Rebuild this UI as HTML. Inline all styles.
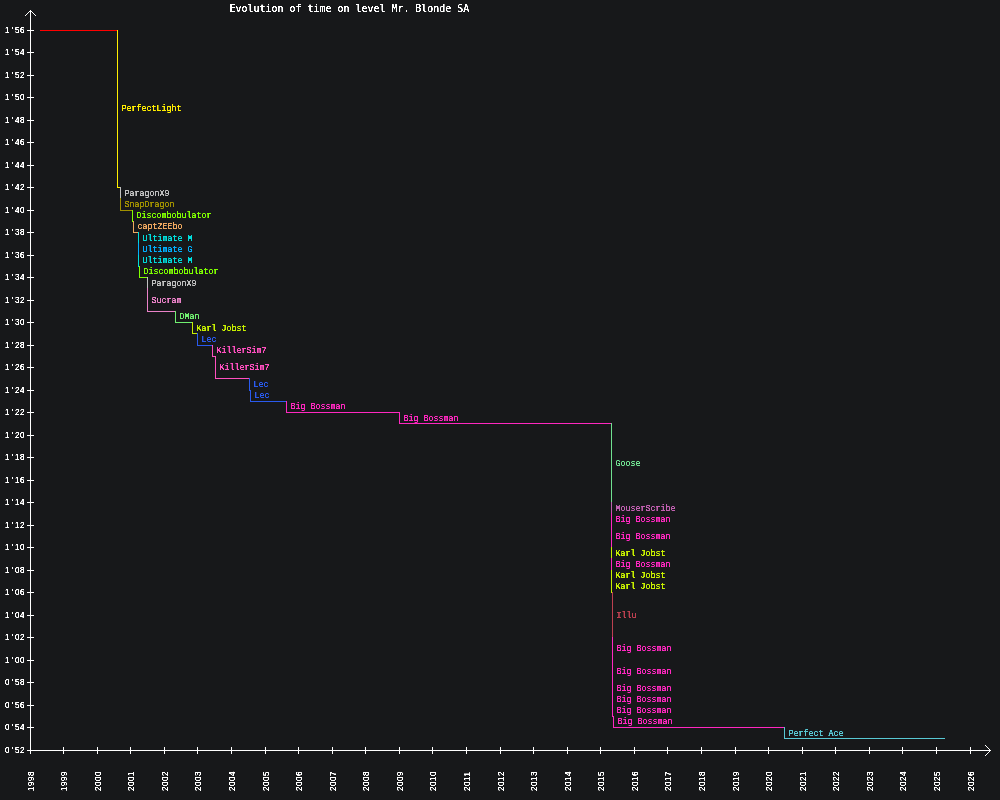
<!DOCTYPE html>
<html lang="en">
<head>
<meta charset="utf-8">
<title>Evolution of time on level Mr. Blonde SA</title>
<style>
html,body{margin:0;padding:0;background:#17181a;}
body{width:1000px;height:800px;overflow:hidden;}
svg{display:block;}
text{white-space:pre;}
.tn text{font-family:"Liberation Mono", "DejaVu Sans Mono", monospace;font-size:8.332px;font-weight:normal;}
.dg text{font-family:"Liberation Sans", "DejaVu Sans", sans-serif;font-size:8.0px;}
.dg.yr text{letter-spacing:0.551px;}
.tt text{font-family:"DejaVu Sans Mono", "Liberation Mono", monospace;font-size:9.966px;font-weight:normal;}
</style>
</head>
<body>
<svg width="1000" height="800" viewBox="0 0 1000 800">
<defs><filter id="px" x="-5%" y="-20%" width="110%" height="140%" color-interpolation-filters="sRGB"><feComponentTransfer><feFuncA type="linear" slope="3" intercept="-0.4"/></feComponentTransfer></filter></defs>
<defs><filter id="pt" x="-5%" y="-20%" width="110%" height="140%" color-interpolation-filters="sRGB"><feComponentTransfer><feFuncA type="linear" slope="3" intercept="-0.5"/></feComponentTransfer></filter></defs>
<rect x="0" y="0" width="1000" height="800" fill="#17181a"/>
<g shape-rendering="crispEdges">
<rect x="30" y="10" width="1" height="741" fill="#ffffff"/>
<rect x="30" y="750" width="961" height="1" fill="#ffffff"/>
<rect x="29" y="11" width="1" height="1" fill="#ffffff"/>
<rect x="31" y="11" width="1" height="1" fill="#ffffff"/>
<rect x="989" y="749" width="1" height="1" fill="#ffffff"/>
<rect x="989" y="751" width="1" height="1" fill="#ffffff"/>
<rect x="28" y="12" width="1" height="1" fill="#ffffff"/>
<rect x="32" y="12" width="1" height="1" fill="#ffffff"/>
<rect x="988" y="748" width="1" height="1" fill="#ffffff"/>
<rect x="988" y="752" width="1" height="1" fill="#ffffff"/>
<rect x="27" y="13" width="1" height="1" fill="#ffffff"/>
<rect x="33" y="13" width="1" height="1" fill="#ffffff"/>
<rect x="987" y="747" width="1" height="1" fill="#ffffff"/>
<rect x="987" y="753" width="1" height="1" fill="#ffffff"/>
<rect x="26" y="14" width="1" height="1" fill="#ffffff"/>
<rect x="34" y="14" width="1" height="1" fill="#ffffff"/>
<rect x="986" y="746" width="1" height="1" fill="#ffffff"/>
<rect x="986" y="754" width="1" height="1" fill="#ffffff"/>
<rect x="25" y="15" width="1" height="1" fill="#ffffff"/>
<rect x="35" y="15" width="1" height="1" fill="#ffffff"/>
<rect x="985" y="745" width="1" height="1" fill="#ffffff"/>
<rect x="985" y="755" width="1" height="1" fill="#ffffff"/>
<rect x="27" y="30" width="7" height="1" fill="#ffffff"/>
<rect x="27" y="52" width="7" height="1" fill="#ffffff"/>
<rect x="27" y="75" width="7" height="1" fill="#ffffff"/>
<rect x="27" y="97" width="7" height="1" fill="#ffffff"/>
<rect x="27" y="120" width="7" height="1" fill="#ffffff"/>
<rect x="27" y="142" width="7" height="1" fill="#ffffff"/>
<rect x="27" y="165" width="7" height="1" fill="#ffffff"/>
<rect x="27" y="187" width="7" height="1" fill="#ffffff"/>
<rect x="27" y="210" width="7" height="1" fill="#ffffff"/>
<rect x="27" y="232" width="7" height="1" fill="#ffffff"/>
<rect x="27" y="255" width="7" height="1" fill="#ffffff"/>
<rect x="27" y="277" width="7" height="1" fill="#ffffff"/>
<rect x="27" y="300" width="7" height="1" fill="#ffffff"/>
<rect x="27" y="322" width="7" height="1" fill="#ffffff"/>
<rect x="27" y="345" width="7" height="1" fill="#ffffff"/>
<rect x="27" y="367" width="7" height="1" fill="#ffffff"/>
<rect x="27" y="390" width="7" height="1" fill="#ffffff"/>
<rect x="27" y="412" width="7" height="1" fill="#ffffff"/>
<rect x="27" y="435" width="7" height="1" fill="#ffffff"/>
<rect x="27" y="457" width="7" height="1" fill="#ffffff"/>
<rect x="27" y="480" width="7" height="1" fill="#ffffff"/>
<rect x="27" y="502" width="7" height="1" fill="#ffffff"/>
<rect x="27" y="525" width="7" height="1" fill="#ffffff"/>
<rect x="27" y="547" width="7" height="1" fill="#ffffff"/>
<rect x="27" y="570" width="7" height="1" fill="#ffffff"/>
<rect x="27" y="592" width="7" height="1" fill="#ffffff"/>
<rect x="27" y="615" width="7" height="1" fill="#ffffff"/>
<rect x="27" y="637" width="7" height="1" fill="#ffffff"/>
<rect x="27" y="660" width="7" height="1" fill="#ffffff"/>
<rect x="27" y="682" width="7" height="1" fill="#ffffff"/>
<rect x="27" y="705" width="7" height="1" fill="#ffffff"/>
<rect x="27" y="727" width="7" height="1" fill="#ffffff"/>
<rect x="27" y="750" width="7" height="1" fill="#ffffff"/>
<rect x="30" y="747" width="1" height="7" fill="#ffffff"/>
<rect x="63" y="747" width="1" height="7" fill="#ffffff"/>
<rect x="97" y="747" width="1" height="7" fill="#ffffff"/>
<rect x="130" y="747" width="1" height="7" fill="#ffffff"/>
<rect x="164" y="747" width="1" height="7" fill="#ffffff"/>
<rect x="197" y="747" width="1" height="7" fill="#ffffff"/>
<rect x="231" y="747" width="1" height="7" fill="#ffffff"/>
<rect x="265" y="747" width="1" height="7" fill="#ffffff"/>
<rect x="298" y="747" width="1" height="7" fill="#ffffff"/>
<rect x="332" y="747" width="1" height="7" fill="#ffffff"/>
<rect x="365" y="747" width="1" height="7" fill="#ffffff"/>
<rect x="399" y="747" width="1" height="7" fill="#ffffff"/>
<rect x="432" y="747" width="1" height="7" fill="#ffffff"/>
<rect x="466" y="747" width="1" height="7" fill="#ffffff"/>
<rect x="500" y="747" width="1" height="7" fill="#ffffff"/>
<rect x="533" y="747" width="1" height="7" fill="#ffffff"/>
<rect x="567" y="747" width="1" height="7" fill="#ffffff"/>
<rect x="600" y="747" width="1" height="7" fill="#ffffff"/>
<rect x="634" y="747" width="1" height="7" fill="#ffffff"/>
<rect x="667" y="747" width="1" height="7" fill="#ffffff"/>
<rect x="701" y="747" width="1" height="7" fill="#ffffff"/>
<rect x="735" y="747" width="1" height="7" fill="#ffffff"/>
<rect x="768" y="747" width="1" height="7" fill="#ffffff"/>
<rect x="802" y="747" width="1" height="7" fill="#ffffff"/>
<rect x="835" y="747" width="1" height="7" fill="#ffffff"/>
<rect x="869" y="747" width="1" height="7" fill="#ffffff"/>
<rect x="902" y="747" width="1" height="7" fill="#ffffff"/>
<rect x="936" y="747" width="1" height="7" fill="#ffffff"/>
<rect x="970" y="747" width="1" height="7" fill="#ffffff"/>
<rect x="40" y="30" width="78" height="1" fill="#ff0000"/>
<rect x="117" y="30" width="1" height="158" fill="#ffee00"/>
<rect x="117" y="187" width="4" height="1" fill="#ffee00"/>
<rect x="120" y="187" width="1" height="12" fill="#c0c0c0"/>
<rect x="120" y="198" width="1" height="13" fill="#a09000"/>
<rect x="120" y="210" width="13" height="1" fill="#a09000"/>
<rect x="132" y="210" width="1" height="12" fill="#80ff00"/>
<rect x="132" y="221" width="2" height="1" fill="#80ff00"/>
<rect x="133" y="221" width="1" height="12" fill="#f0a860"/>
<rect x="133" y="232" width="6" height="1" fill="#f0a860"/>
<rect x="138" y="232" width="1" height="12" fill="#00dcdc"/>
<rect x="138" y="243" width="1" height="13" fill="#00b0ff"/>
<rect x="138" y="255" width="1" height="12" fill="#00dcdc"/>
<rect x="138" y="266" width="2" height="1" fill="#00dcdc"/>
<rect x="139" y="266" width="1" height="12" fill="#80ff00"/>
<rect x="139" y="277" width="9" height="1" fill="#80ff00"/>
<rect x="147" y="277" width="1" height="12" fill="#c0c0c0"/>
<rect x="147" y="288" width="1" height="24" fill="#ea82c8"/>
<rect x="147" y="311" width="29" height="1" fill="#ea82c8"/>
<rect x="175" y="311" width="1" height="12" fill="#70f070"/>
<rect x="175" y="322" width="18" height="1" fill="#70f070"/>
<rect x="192" y="322" width="1" height="12" fill="#c8f000"/>
<rect x="192" y="333" width="6" height="1" fill="#c8f000"/>
<rect x="197" y="333" width="1" height="13" fill="#2a5aee"/>
<rect x="197" y="345" width="16" height="1" fill="#2a5aee"/>
<rect x="212" y="345" width="1" height="12" fill="#ff50c0"/>
<rect x="212" y="356" width="4" height="1" fill="#ff50c0"/>
<rect x="215" y="356" width="1" height="23" fill="#ff50c0"/>
<rect x="215" y="378" width="35" height="1" fill="#ff50c0"/>
<rect x="249" y="378" width="1" height="13" fill="#2a5aee"/>
<rect x="249" y="390" width="2" height="1" fill="#2a5aee"/>
<rect x="250" y="390" width="1" height="12" fill="#2a5aee"/>
<rect x="250" y="401" width="37" height="1" fill="#2a5aee"/>
<rect x="286" y="401" width="1" height="12" fill="#ff28c0"/>
<rect x="286" y="412" width="114" height="1" fill="#ff28c0"/>
<rect x="399" y="412" width="1" height="12" fill="#ff28c0"/>
<rect x="399" y="423" width="213" height="1" fill="#ff28c0"/>
<rect x="611" y="423" width="1" height="80" fill="#70e090"/>
<rect x="611" y="502" width="1" height="12" fill="#c060b0"/>
<rect x="611" y="513" width="1" height="13" fill="#ff28c0"/>
<rect x="611" y="525" width="1" height="23" fill="#ff28c0"/>
<rect x="611" y="547" width="1" height="12" fill="#c8f000"/>
<rect x="611" y="558" width="1" height="13" fill="#ff28c0"/>
<rect x="611" y="570" width="1" height="12" fill="#c8f000"/>
<rect x="611" y="581" width="1" height="12" fill="#c8f000"/>
<rect x="611" y="592" width="2" height="1" fill="#c8f000"/>
<rect x="612" y="592" width="1" height="46" fill="#bc4050"/>
<rect x="612" y="637" width="1" height="24" fill="#ff28c0"/>
<rect x="612" y="660" width="1" height="23" fill="#ff28c0"/>
<rect x="612" y="682" width="1" height="12" fill="#ff28c0"/>
<rect x="612" y="693" width="1" height="13" fill="#ff28c0"/>
<rect x="612" y="705" width="1" height="12" fill="#ff28c0"/>
<rect x="612" y="716" width="2" height="1" fill="#ff28c0"/>
<rect x="613" y="716" width="1" height="12" fill="#ff28c0"/>
<rect x="613" y="727" width="172" height="1" fill="#ff28c0"/>
<rect x="784" y="727" width="1" height="12" fill="#58c8d4"/>
<rect x="784" y="738" width="161" height="1" fill="#58c8d4"/>
</g>
<g class="tt" filter="url(#pt)"><text transform="translate(229.5,12) scale(1,1.1)" fill="#fff">Evolution of time on level Mr. Blonde SA</text></g>
<g class="dg" fill="#fff" filter="url(#px)">
<text transform="translate(5.0,33) scale(1,1.08)" x="0 6.5 10 15">1'56</text>
<text transform="translate(5.0,55) scale(1,1.08)" x="0 6.5 10 15">1'54</text>
<text transform="translate(5.0,78) scale(1,1.08)" x="0 6.5 10 15">1'52</text>
<text transform="translate(5.0,100) scale(1,1.08)" x="0 6.5 10 15">1'50</text>
<text transform="translate(5.0,123) scale(1,1.08)" x="0 6.5 10 15">1'48</text>
<text transform="translate(5.0,145) scale(1,1.08)" x="0 6.5 10 15">1'46</text>
<text transform="translate(5.0,168) scale(1,1.08)" x="0 6.5 10 15">1'44</text>
<text transform="translate(5.0,190) scale(1,1.08)" x="0 6.5 10 15">1'42</text>
<text transform="translate(5.0,213) scale(1,1.08)" x="0 6.5 10 15">1'40</text>
<text transform="translate(5.0,235) scale(1,1.08)" x="0 6.5 10 15">1'38</text>
<text transform="translate(5.0,258) scale(1,1.08)" x="0 6.5 10 15">1'36</text>
<text transform="translate(5.0,280) scale(1,1.08)" x="0 6.5 10 15">1'34</text>
<text transform="translate(5.0,303) scale(1,1.08)" x="0 6.5 10 15">1'32</text>
<text transform="translate(5.0,325) scale(1,1.08)" x="0 6.5 10 15">1'30</text>
<text transform="translate(5.0,348) scale(1,1.08)" x="0 6.5 10 15">1'28</text>
<text transform="translate(5.0,370) scale(1,1.08)" x="0 6.5 10 15">1'26</text>
<text transform="translate(5.0,393) scale(1,1.08)" x="0 6.5 10 15">1'24</text>
<text transform="translate(5.0,415) scale(1,1.08)" x="0 6.5 10 15">1'22</text>
<text transform="translate(5.0,438) scale(1,1.08)" x="0 6.5 10 15">1'20</text>
<text transform="translate(5.0,460) scale(1,1.08)" x="0 6.5 10 15">1'18</text>
<text transform="translate(5.0,483) scale(1,1.08)" x="0 6.5 10 15">1'16</text>
<text transform="translate(5.0,505) scale(1,1.08)" x="0 6.5 10 15">1'14</text>
<text transform="translate(5.0,528) scale(1,1.08)" x="0 6.5 10 15">1'12</text>
<text transform="translate(5.0,550) scale(1,1.08)" x="0 6.5 10 15">1'10</text>
<text transform="translate(5.0,573) scale(1,1.08)" x="0 6.5 10 15">1'08</text>
<text transform="translate(5.0,595) scale(1,1.08)" x="0 6.5 10 15">1'06</text>
<text transform="translate(5.0,618) scale(1,1.08)" x="0 6.5 10 15">1'04</text>
<text transform="translate(5.0,640) scale(1,1.08)" x="0 6.5 10 15">1'02</text>
<text transform="translate(5.0,663) scale(1,1.08)" x="0 6.5 10 15">1'00</text>
<text transform="translate(5.0,685) scale(1,1.08)" x="0 6.5 10 15">0'58</text>
<text transform="translate(5.0,708) scale(1,1.08)" x="0 6.5 10 15">0'56</text>
<text transform="translate(5.0,730) scale(1,1.08)" x="0 6.5 10 15">0'54</text>
<text transform="translate(5.0,753) scale(1,1.08)" x="0 6.5 10 15">0'52</text>
</g>
<g class="dg yr" fill="#fff" filter="url(#px)">
<text transform="translate(34,791) rotate(-90) scale(1,1.08)">1998</text>
<text transform="translate(67,791) rotate(-90) scale(1,1.08)">1999</text>
<text transform="translate(101,791) rotate(-90) scale(1,1.08)">2000</text>
<text transform="translate(134,791) rotate(-90) scale(1,1.08)">2001</text>
<text transform="translate(168,791) rotate(-90) scale(1,1.08)">2002</text>
<text transform="translate(201,791) rotate(-90) scale(1,1.08)">2003</text>
<text transform="translate(235,791) rotate(-90) scale(1,1.08)">2004</text>
<text transform="translate(269,791) rotate(-90) scale(1,1.08)">2005</text>
<text transform="translate(302,791) rotate(-90) scale(1,1.08)">2006</text>
<text transform="translate(336,791) rotate(-90) scale(1,1.08)">2007</text>
<text transform="translate(369,791) rotate(-90) scale(1,1.08)">2008</text>
<text transform="translate(403,791) rotate(-90) scale(1,1.08)">2009</text>
<text transform="translate(436,791) rotate(-90) scale(1,1.08)">2010</text>
<text transform="translate(470,791) rotate(-90) scale(1,1.08)">2011</text>
<text transform="translate(504,791) rotate(-90) scale(1,1.08)">2012</text>
<text transform="translate(537,791) rotate(-90) scale(1,1.08)">2013</text>
<text transform="translate(571,791) rotate(-90) scale(1,1.08)">2014</text>
<text transform="translate(604,791) rotate(-90) scale(1,1.08)">2015</text>
<text transform="translate(638,791) rotate(-90) scale(1,1.08)">2016</text>
<text transform="translate(671,791) rotate(-90) scale(1,1.08)">2017</text>
<text transform="translate(705,791) rotate(-90) scale(1,1.08)">2018</text>
<text transform="translate(739,791) rotate(-90) scale(1,1.08)">2019</text>
<text transform="translate(772,791) rotate(-90) scale(1,1.08)">2020</text>
<text transform="translate(806,791) rotate(-90) scale(1,1.08)">2021</text>
<text transform="translate(839,791) rotate(-90) scale(1,1.08)">2022</text>
<text transform="translate(873,791) rotate(-90) scale(1,1.08)">2023</text>
<text transform="translate(906,791) rotate(-90) scale(1,1.08)">2024</text>
<text transform="translate(940,791) rotate(-90) scale(1,1.08)">2025</text>
<text transform="translate(974,791) rotate(-90) scale(1,1.08)">2026</text>
</g>
<g class="tn" filter="url(#px)">
<text transform="translate(121.6,111) scale(1,1.04)" fill="#ffee00">PerfectLight</text>
<text transform="translate(124.6,196) scale(1,1.04)" fill="#c0c0c0">ParagonX9</text>
<text transform="translate(124.6,207) scale(1,1.04)" fill="#a09000">SnapDragon</text>
<text transform="translate(136.6,218) scale(1,1.04)" fill="#80ff00">Discombobulator</text>
<text transform="translate(137.6,229) scale(1,1.04)" fill="#f0a860">captZEEbo</text>
<text transform="translate(142.6,241) scale(1,1.04)" fill="#00dcdc">Ultimate M</text>
<text transform="translate(142.6,252) scale(1,1.04)" fill="#00b0ff">Ultimate G</text>
<text transform="translate(142.6,263) scale(1,1.04)" fill="#00dcdc">Ultimate M</text>
<text transform="translate(143.6,274) scale(1,1.04)" fill="#80ff00">Discombobulator</text>
<text transform="translate(151.6,286) scale(1,1.04)" fill="#c0c0c0">ParagonX9</text>
<text transform="translate(151.6,303) scale(1,1.04)" fill="#ea82c8">Sucram</text>
<text transform="translate(179.6,319) scale(1,1.04)" fill="#70f070">DMan</text>
<text transform="translate(196.6,331) scale(1,1.04)" fill="#c8f000">Karl Jobst</text>
<text transform="translate(201.6,342) scale(1,1.04)" fill="#2a5aee">Lec</text>
<text transform="translate(216.6,353) scale(1,1.04)" fill="#ff50c0">KillerSim7</text>
<text transform="translate(219.6,370) scale(1,1.04)" fill="#ff50c0">KillerSim7</text>
<text transform="translate(253.6,387) scale(1,1.04)" fill="#2a5aee">Lec</text>
<text transform="translate(254.6,398) scale(1,1.04)" fill="#2a5aee">Lec</text>
<text transform="translate(290.6,409) scale(1,1.04)" fill="#ff28c0">Big Bossman</text>
<text transform="translate(403.6,421) scale(1,1.04)" fill="#ff28c0">Big Bossman</text>
<text transform="translate(615.6,466) scale(1,1.04)" fill="#70e090">Goose</text>
<text transform="translate(615.6,511) scale(1,1.04)" fill="#c060b0">MouserScribe</text>
<text transform="translate(615.6,522) scale(1,1.04)" fill="#ff28c0">Big Bossman</text>
<text transform="translate(615.6,539) scale(1,1.04)" fill="#ff28c0">Big Bossman</text>
<text transform="translate(615.6,556) scale(1,1.04)" fill="#c8f000">Karl Jobst</text>
<text transform="translate(615.6,567) scale(1,1.04)" fill="#ff28c0">Big Bossman</text>
<text transform="translate(615.6,578) scale(1,1.04)" fill="#c8f000">Karl Jobst</text>
<text transform="translate(615.6,589) scale(1,1.04)" fill="#c8f000">Karl Jobst</text>
<text transform="translate(616.6,618) scale(1,1.04)" fill="#bc4050">Illu</text>
<text transform="translate(616.6,651) scale(1,1.04)" fill="#ff28c0">Big Bossman</text>
<text transform="translate(616.6,674) scale(1,1.04)" fill="#ff28c0">Big Bossman</text>
<text transform="translate(616.6,691) scale(1,1.04)" fill="#ff28c0">Big Bossman</text>
<text transform="translate(616.6,702) scale(1,1.04)" fill="#ff28c0">Big Bossman</text>
<text transform="translate(616.6,713) scale(1,1.04)" fill="#ff28c0">Big Bossman</text>
<text transform="translate(617.6,724) scale(1,1.04)" fill="#ff28c0">Big Bossman</text>
<text transform="translate(788.6,736) scale(1,1.04)" fill="#58c8d4">Perfect Ace</text>
</g>
</svg>
</body>
</html>
